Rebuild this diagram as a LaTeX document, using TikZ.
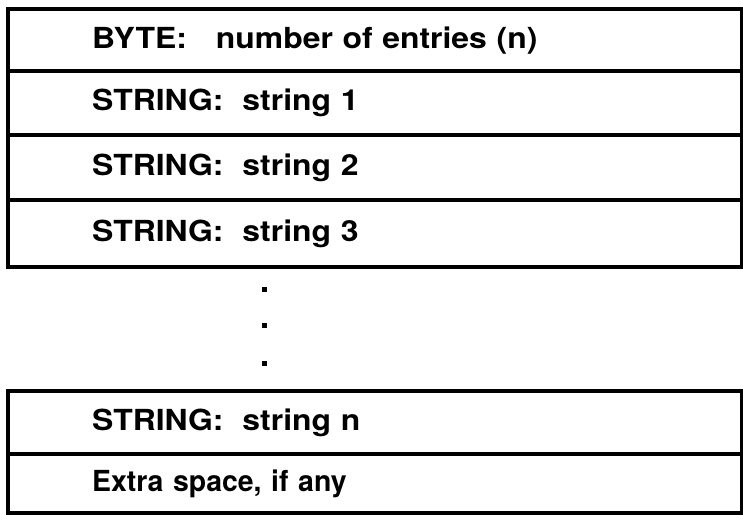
\documentclass[tikz,border=0pt]{standalone}
\usepackage{fontspec}
\setmainfont{TeX Gyre Heros}
\newfontfamily\fieldfont[FakeStretch=1.1]{TeX Gyre Heros}
\newfontfamily\narrowfieldfont[FakeStretch=0.98]{TeX Gyre Heros}
\begin{document}
\begin{tikzpicture}[x=1pt,y=-1pt,
  field/.style={draw, line width=4.4pt, anchor=north west,
    minimum width=734pt, inner xsep=84pt, text width=566pt, align=left,
    font=\fontsize{29}{32}\fieldfont\bfseries},
  narrowfield/.style={field, font=\fontsize{29}{32}\narrowfieldfont\bfseries},
  dot/.style={fill, inner sep=0pt, minimum size=5pt}]
\useasboundingbox (0,0) rectangle (743,514);
% upper block of fields
\node[field, minimum height=62pt] (f1) at (6,7)   {BYTE:\hspace{29pt}number of entries (n)};
\node[field, minimum height=64pt] (f2) at (6,69)  {STRING:\hspace{19pt}string 1};
\node[field, minimum height=65pt] (f3) at (6,133) {STRING:\hspace{19pt}string 2};
\node[field, minimum height=67pt] (f4) at (6,198) {STRING:\hspace{19pt}string 3};
% ellipsis
\node[dot] (d1) at (264,289) {};
\node[dot] (d2) at (264,325) {};
\node[dot] (d3) at (264,363) {};
% lower block of fields
\node[field, minimum height=63pt] (f5) at (6,389) {STRING:\hspace{19pt}string n};
\node[narrowfield, minimum height=59pt] (f6) at (6,452) {Extra space, if any};
\end{tikzpicture}
\end{document}
